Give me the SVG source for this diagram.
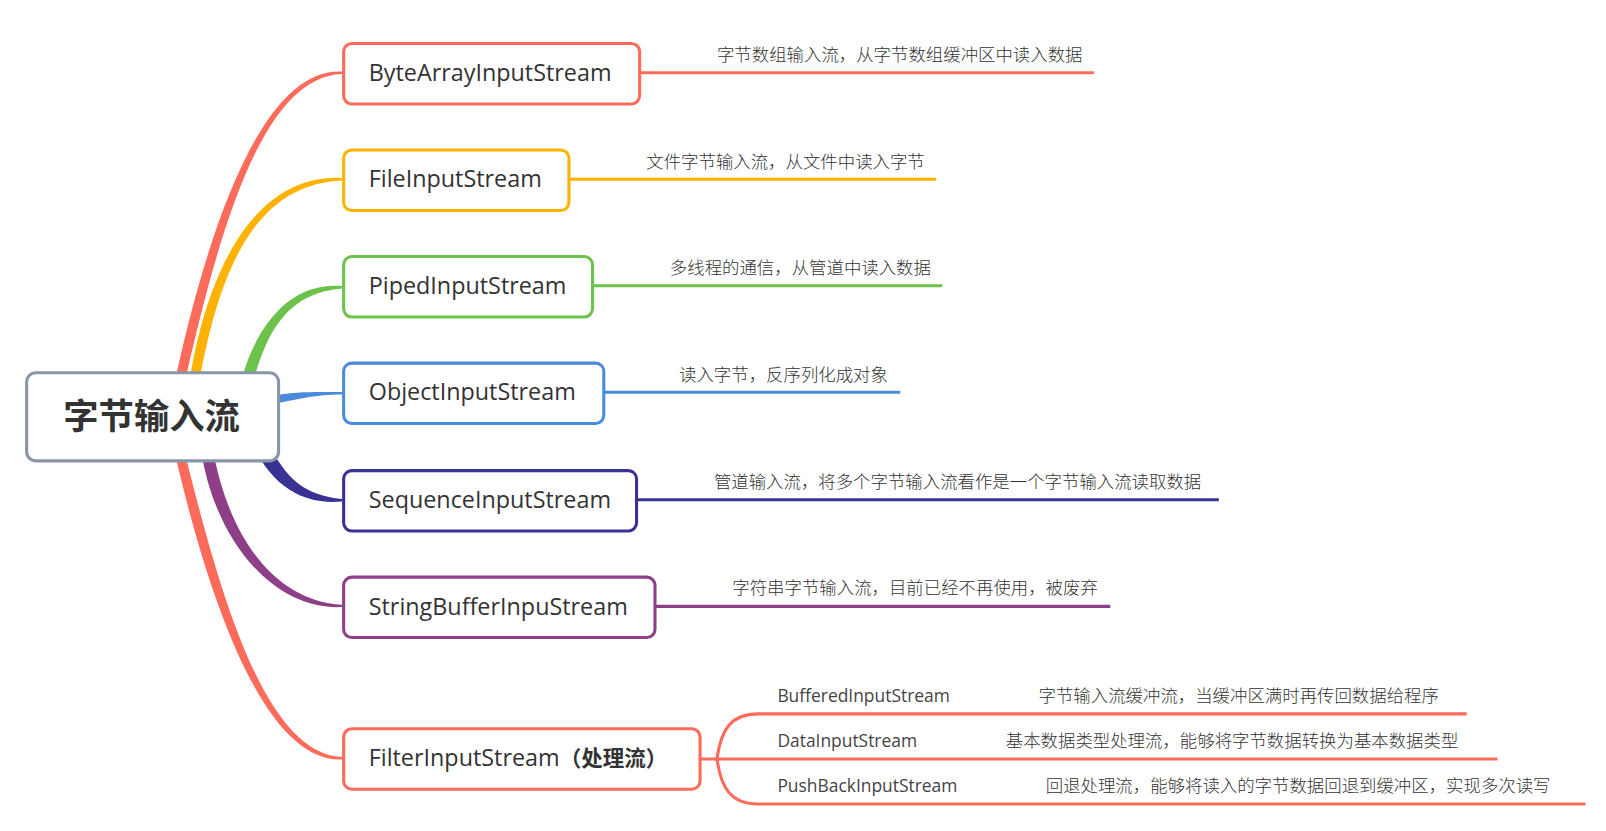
<svg xmlns="http://www.w3.org/2000/svg" width="1606" height="831" viewBox="0 0 1606 831">
<style>
.node{fill:#fff;stroke-width:3}
.nt{font-family:"Open Sans","Liberation Sans",sans-serif;font-size:22.8px;fill:#333}
.desc{font-family:"Noto Sans CJK SC","Noto Sans",sans-serif;font-size:17px;font-weight:300;fill:#333}
.sub{font-family:"Open Sans","Liberation Sans",sans-serif;font-size:17px;fill:#444}
.ln{fill:none;stroke-width:3}
</style>
<rect width="1606" height="831" fill="#fff"/>
<g id="connectors">
  <path d="M173,390 C207,230 262,67 342,71.5 L342,74 C262,77 219,230 183,390 Z" fill="#FF6B5B"/>
  <path d="M188,390 C209,250 265,174 342,178 L342,180.5 C265,184 221,250 198,390 Z" fill="#FFB300"/>
  <path d="M239,390 C251,335 285,281 342,286 L342,288.5 C285,293 265,335 251,390 Z" fill="#6CC24A"/>
  <path d="M268,396 C300,391 315,392 342,392 L342,394.5 C315,394.5 300,399 268,405 Z" fill="#4A8CDB"/>
  <path d="M265,438 C287,481 305,495 342,499 L342,501.5 C305,505 273,489 251,442 Z" fill="#3A3195"/>
  <path d="M213,450 C229,538 275,601 342,604.8 L342,607 C275,611 215,542 201,450 Z" fill="#8E3F87"/>
  <path d="M184,450 C221,598 265,753 342,757 L342,759.5 C265,763 209,602 174,450 Z" fill="#FF6B5B"/>
  <g transform="scale(1.02423)">
    <path class="ln" stroke="#FF6B5B" d="M625,71 H1068"/>
    <path class="ln" stroke="#FFB300" d="M556,175 H914"/>
    <path class="ln" stroke="#6CC24A" d="M579,279 H920"/>
    <path class="ln" stroke="#4A8CDB" d="M590,383 H879"/>
    <path class="ln" stroke="#3A3195" d="M622,488 H1190"/>
    <path class="ln" stroke="#8E3F87" d="M640,592 H1084"/>
    <path class="ln" stroke="#FF6B5B" d="M684,741 H1462"/>
    <path class="ln" stroke="#FF6B5B" d="M700,741 C704,712 714,697 740,697 H1432"/>
    <path class="ln" stroke="#FF6B5B" d="M700,741 C704,770 714,785 740,785 H1548"/>
  </g>
</g>
<g transform="scale(1.02423)">
<g id="root">
  <rect x="26" y="364" width="246" height="86" rx="9" fill="#fff" stroke="#8896A8" stroke-width="3"/>
  <text x="148" y="419" text-anchor="middle" font-family="Noto Sans CJK SC,sans-serif" font-weight="bold" font-size="34.5" fill="#333">字节输入流</text>
</g>
<g id="n1">
  <rect class="node" x="335.5" y="42.5" width="289" height="59" rx="8" stroke="#FF6B5B"/>
  <text class="nt" x="360" y="79">ByteArrayInputStream</text>
  <text class="desc" x="700" y="60">字节数组输入流，从字节数组缓冲区中读入数据</text>
</g>
<g id="n2">
  <rect class="node" x="335.5" y="146.5" width="220" height="59" rx="8" stroke="#FFB300"/>
  <text class="nt" x="360" y="183">FileInputStream</text>
  <text class="desc" x="631" y="164">文件字节输入流，从文件中读入字节</text>
</g>
<g id="n3">
  <rect class="node" x="335.5" y="250.5" width="243" height="59" rx="8" stroke="#6CC24A"/>
  <text class="nt" x="360" y="287">PipedInputStream</text>
  <text class="desc" x="654" y="268">多线程的通信，从管道中读入数据</text>
</g>
<g id="n4">
  <rect class="node" x="335.5" y="354.5" width="254" height="59" rx="8" stroke="#4A8CDB"/>
  <text class="nt" x="360" y="391">ObjectInputStream</text>
  <text class="desc" x="663" y="372">读入字节，反序列化成对象</text>
</g>
<g id="n5">
  <rect class="node" x="335.5" y="459.5" width="286" height="59" rx="8" stroke="#3A3195"/>
  <text class="nt" x="360" y="496">SequenceInputStream</text>
  <text class="desc" x="697" y="476">管道输入流，将多个字节输入流看作是一个字节输入流读取数据</text>
</g>
<g id="n6">
  <rect class="node" x="335.5" y="563.5" width="304" height="59" rx="8" stroke="#8E3F87"/>
  <text class="nt" x="360" y="600">StringBufferInpuStream</text>
  <text class="desc" x="715" y="580">字符串字节输入流，目前已经不再使用，被废弃</text>
</g>
<g id="n7">
  <rect class="node" x="335.5" y="711.5" width="348" height="59" rx="8" stroke="#FF6B5B"/>
  <text class="nt" x="360" y="748">FilterInputStream<tspan font-family="Noto Sans CJK SC,sans-serif" font-size="21" font-weight="bold">（处理流）</tspan></text>
</g>
<g id="n7a">
  <text class="sub" x="759" y="685">BufferedInputStream</text>
  <text class="desc" x="1014" y="685">字节输入流缓冲流，当缓冲区满时再传回数据给程序</text>
</g>
<g id="n7b">
  <text class="sub" x="759" y="729">DataInputStream</text>
  <text class="desc" x="982" y="729">基本数据类型处理流，能够将字节数据转换为基本数据类型</text>
</g>
<g id="n7c">
  <text class="sub" x="759" y="773">PushBackInputStream</text>
  <text class="desc" x="1021" y="773">回退处理流，能够将读入的字节数据回退到缓冲区，实现多次读写</text>
</g>
</g>
</svg>
